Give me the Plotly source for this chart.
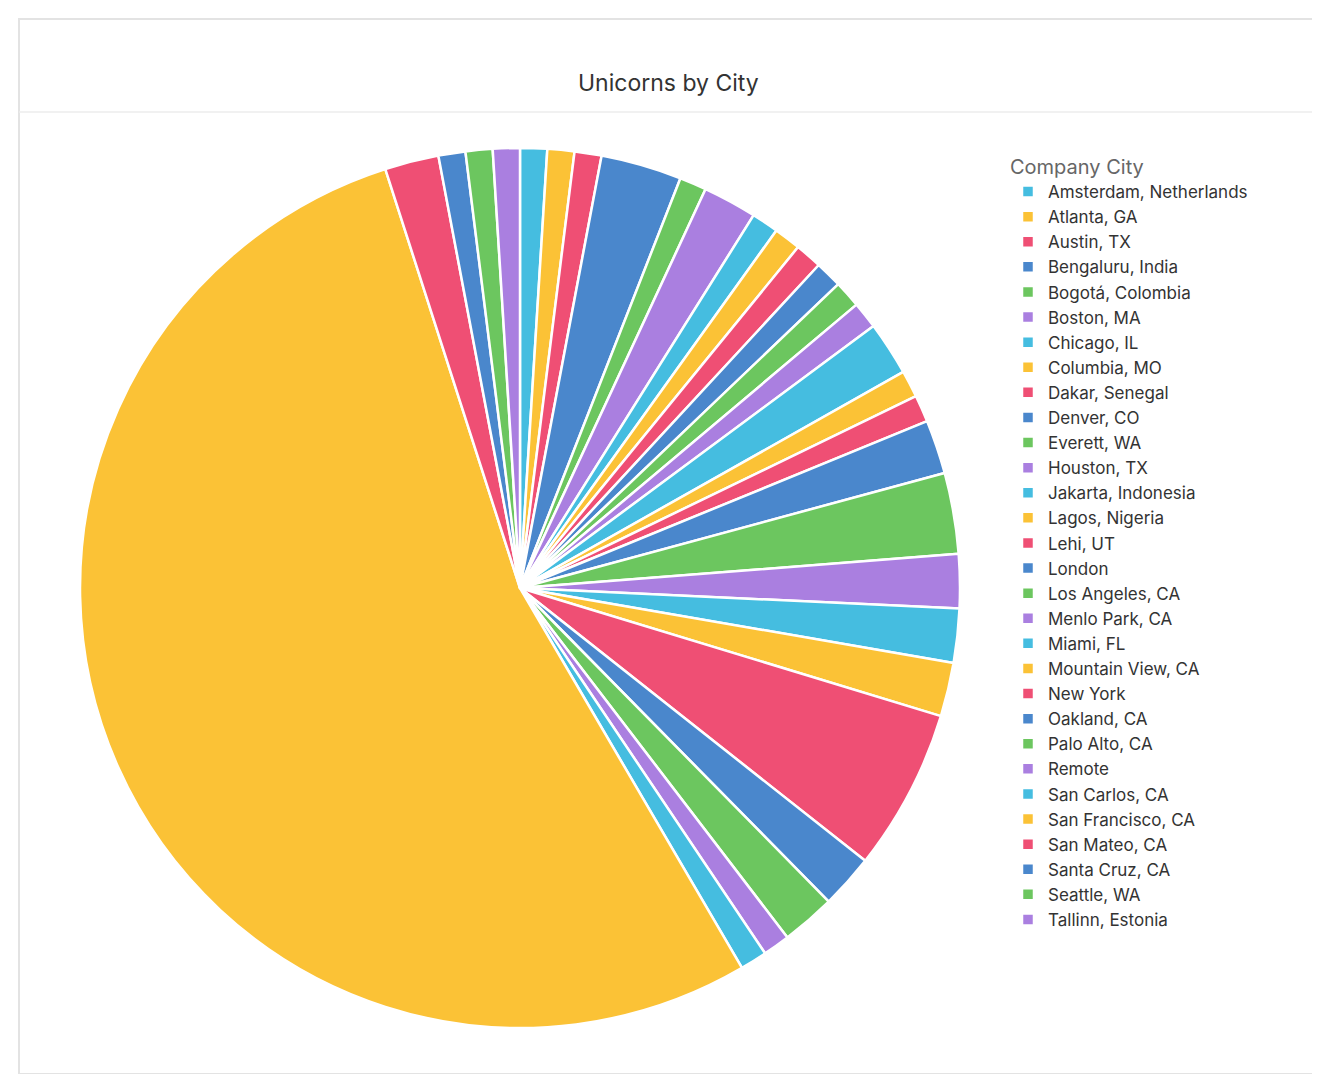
import plotly.graph_objects as go

cities = ["Amsterdam, Netherlands", "Atlanta, GA", "Austin, TX", "Bengaluru, India",
          "Bogotá, Colombia", "Boston, MA", "Chicago, IL", "Columbia, MO", "Dakar, Senegal",
          "Denver, CO", "Everett, WA", "Houston, TX", "Jakarta, Indonesia", "Lagos, Nigeria",
          "Lehi, UT", "London", "Los Angeles, CA", "Menlo Park, CA", "Miami, FL",
          "Mountain View, CA", "New York", "Oakland, CA", "Palo Alto, CA", "Remote",
          "San Carlos, CA", "San Francisco, CA", "San Mateo, CA", "Santa Cruz, CA",
          "Seattle, WA", "Tallinn, Estonia"]
counts = [1, 1, 1, 3, 1, 2, 1, 1, 1, 1, 1, 1, 2, 1, 1, 2, 3, 2, 2, 2, 6, 2, 2, 1, 1, 54, 2, 1, 1, 1]
palette = ["#45BDE0", "#FBC236", "#EF4F74", "#4A87CC", "#6CC65F", "#AA7FE0"]
colors = [palette[i % 6] for i in range(len(cities))]

W, H = 1320, 1074

fig = go.Figure(go.Pie(
    labels=cities, values=counts, sort=False, direction="clockwise", rotation=0,
    textinfo="none", hoverinfo="label+value",
    marker=dict(colors=colors, line=dict(color="white", width=2.5)),
    domain=dict(x=[72 / W, 952 / W], y=[1 - 1022 / H, 1 - 138 / H]),
))

fig.update_layout(
    width=W, height=H, margin=dict(l=0, r=0, t=0, b=0),
    paper_bgcolor="white",
    font=dict(family="Inter, Noto Sans, sans-serif", color="#333"),
    legend=dict(x=1000 / W, y=1 - 140 / H, xanchor="left", yanchor="top",
                title=dict(text="Company City", font=dict(size=20, color="#666")),
                font=dict(size=17, color="#333"), itemclick=False),
    shapes=[
        dict(type="rect", xref="paper", yref="paper", x0=11 / W, x1=1 - 8 / W,
             y0=8 / H, y1=1 - 11 / H, line=dict(color="#e3e3e3", width=2)),
        dict(type="line", xref="paper", yref="paper", x0=11 / W, x1=1 - 8 / W,
             y0=1 - 104 / H, y1=1 - 104 / H, line=dict(color="#ececec", width=1.5)),
    ],
    annotations=[dict(text="Unicorns by City", xref="paper", yref="paper",
                      x=0.5, y=1 - 59 / H, showarrow=False,
                      font=dict(size=23, color="#333"))],
)

fig.write_html("out.html")
